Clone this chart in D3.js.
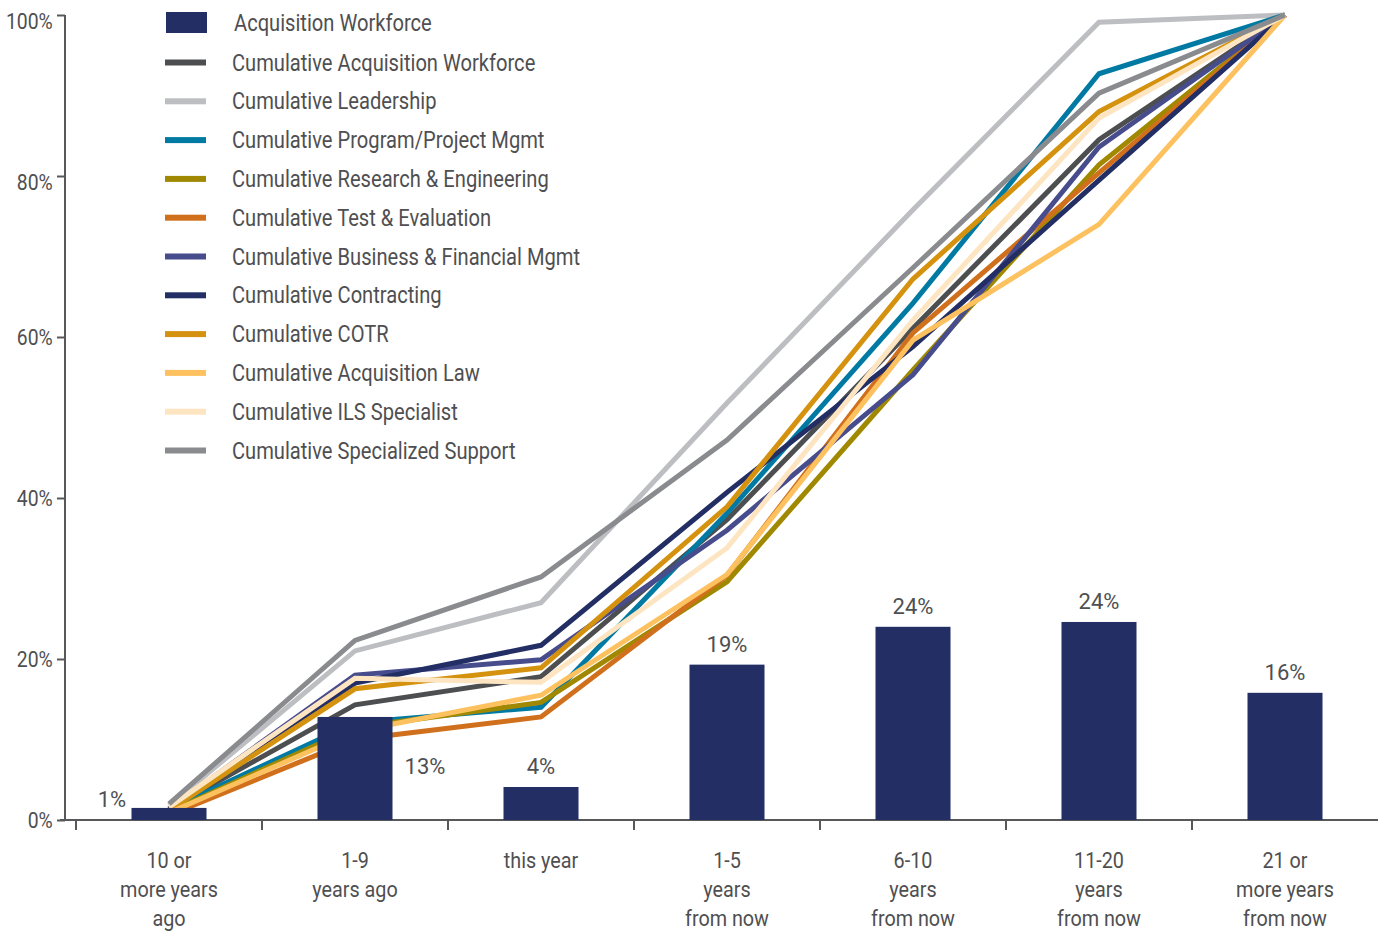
<!DOCTYPE html>
<html>
<head>
<meta charset="utf-8">
<script src="https://cdn.jsdelivr.net/npm/d3@7"></script>
<style>
  body { margin: 0; background: #fff; }
  text { font-family: "Roboto", sans-serif; fill: #4f4f51; }
</style>
</head>
<body>
<div id="chart"></div>
<script>
// categories (multi-line tick labels)
var categories = [
  ["10 or", "more years", "ago"],
  ["1-9", "years ago"],
  ["this year"],
  ["1-5", "years", "from now"],
  ["6-10", "years", "from now"],
  ["11-20", "years", "from now"],
  ["21 or", "more years", "from now"]
];
var yTicks = [0, 20, 40, 60, 80, 100];

// bars: Acquisition Workforce (%)
var workforce = [1.5, 12.8, 4.1, 19.3, 24.0, 24.6, 15.8];
var workforceLabels = ["1%", "13%", "4%", "19%", "24%", "24%", "16%"];

// cumulative lines (%)
var cumWorkforce   = [1.4, 14.3, 17.8, 37.3, 61.1, 84.5, 100];
var cumLeadership  = [1.8, 21.0, 27.0, 51.8, 75.8, 99.1, 100];
var cumProgram     = [1.3, 12.1, 14.0, 38.1, 64.2, 92.7, 100];
var cumResearch    = [1.0, 11.5, 14.6, 29.6, 55.9, 81.4, 100];
var cumTest        = [0.6, 10.0, 12.8, 30.4, 60.5, 80.4, 100];
var cumBusiness    = [1.4, 18.0, 19.9, 36.0, 55.3, 83.6, 100];
var cumContracting = [1.3, 17.0, 21.7, 40.7, 58.8, 79.5, 100];
var cumCOTR        = [1.2, 16.3, 18.9, 38.9, 67.2, 88.0, 100];
var cumLaw         = [0.9, 11.0, 15.5, 30.5, 59.6, 74.0, 100];
var cumILS         = [1.6, 17.6, 17.1, 33.8, 62.1, 87.2, 100];
var cumSpecialized = [2.0, 22.3, 30.2, 47.2, 68.6, 90.3, 100];

var seriesNames = ["Cumulative Acquisition Workforce", "Cumulative Leadership",
  "Cumulative Program/Project Mgmt", "Cumulative Research & Engineering",
  "Cumulative Test & Evaluation", "Cumulative Business & Financial Mgmt",
  "Cumulative Contracting", "Cumulative COTR", "Cumulative Acquisition Law",
  "Cumulative ILS Specialist", "Cumulative Specialized Support"];
var seriesValues = [cumWorkforce, cumLeadership, cumProgram, cumResearch, cumTest,
  cumBusiness, cumContracting, cumCOTR, cumLaw, cumILS, cumSpecialized];
var seriesColors = ["#4d4e50", "#bdbec1", "#007aa3", "#a08900", "#d0701c",
  "#474c8c", "#222e64", "#d4920f", "#fdc15f", "#fde5c2", "#8a8b8e"];
var barColor = "#222e64";

var width = 1384, height = 932;
var squeeze = 0.88;   // the original font is a condensed face
var svg = d3.select("#chart").append("svg")
  .attr("width", width).attr("height", height);

var x = d3.scaleBand().domain(d3.range(categories.length)).range([76, 1378]);
var y = d3.scaleLinear().domain([0, 100]).range([820, 15]);

// y axis
var yAxis = svg.append("g").attr("transform", "translate(65,0)")
  .call(d3.axisLeft(y).tickValues(yTicks).tickSize(8).tickPadding(6)
    .tickFormat(function(d){ return d + "%"; }));
yAxis.select(".domain").attr("d", "M0," + y(100) + "V" + y(0)).attr("stroke", "#58585a").attr("stroke-width", 2);
yAxis.selectAll(".tick line").attr("stroke", "#58585a").attr("stroke-width", 2);
yAxis.selectAll(".tick text")
  .style("font-size", "22px").style("font-family", "Roboto, sans-serif")
  .attr("fill", "#4f4f51")
  .attr("transform", "scale(" + squeeze + ",1)")
  .attr("dy", function(d){ return d >= 80 ? "0.6em" : "0.32em"; });

// x axis
var xg = svg.append("g");
xg.append("line").attr("x1", 60).attr("x2", 1378).attr("y1", y(0)).attr("y2", y(0))
  .attr("stroke", "#58585a").attr("stroke-width", 2);
xg.selectAll(".xtick").data(d3.range(categories.length)).enter().append("line")
  .attr("x1", function(d){ return x(d); }).attr("x2", function(d){ return x(d); })
  .attr("y1", y(0)).attr("y2", y(0) + 10)
  .attr("stroke", "#58585a").attr("stroke-width", 2);
var xl = xg.selectAll(".xlab").data(categories).enter().append("text")
  .attr("text-anchor", "middle")
  .attr("transform", function(d, i){
    return "translate(" + (x(i) + x.bandwidth() / 2) + ",0) scale(" + 0.9 + ",1)";
  })
  .style("font-size", "22px");
xl.selectAll("tspan").data(function(d){ return d; })
  .enter().append("tspan")
  .attr("x", 0)
  .attr("y", function(d, j){ return 868 + j * 29; })
  .text(function(d){ return d; });

// lines
var line = d3.line()
  .x(function(d, i){ return x(i) + x.bandwidth() / 2; })
  .y(function(d){ return y(d); });

seriesValues.forEach(function(vals, k){
  svg.append("path").datum(vals)
    .attr("fill", "none")
    .attr("stroke", seriesColors[k])
    .attr("stroke-width", 5)
    .attr("stroke-linejoin", "miter")
    .attr("d", line);
});

// bars on top of lines
var barW = 75;
svg.selectAll(".bar").data(workforce).enter().append("rect")
  .attr("x", function(d, i){ return x(i) + x.bandwidth() / 2 - barW / 2; })
  .attr("y", function(d){ return y(d); })
  .attr("width", barW)
  .attr("height", function(d){ return y(0) - y(d); })
  .attr("fill", barColor);

// bar labels (first two sit beside the bar so the lines don't hide them)
var labelSide = ["left", "right", "top", "top", "top", "top", "top"];
svg.selectAll(".blab").data(workforce).enter().append("text")
  .style("font-size", "22px")
  .attr("text-anchor", "middle")
  .attr("x", function(d, i){
    var c = x(i) + x.bandwidth() / 2;
    if (labelSide[i] == "left") return c - 57;
    if (labelSide[i] == "right") return c + 70;
    return c;
  })
  .attr("y", function(d, i){
    if (labelSide[i] == "left") return y(d) - 1;
    if (labelSide[i] == "right") return y(d) + 57;
    return y(d) - 13;
  })
  .text(function(d, i){ return workforceLabels[i]; });

// legend
var leg = svg.append("g");
function legText(tx, ty, s){
  leg.append("text")
    .attr("transform", "translate(" + tx + "," + ty + ") scale(0.875,1)")
    .style("font-size", "23px").text(s);
}
leg.append("rect").attr("x", 166).attr("y", 12).attr("width", 41).attr("height", 21).attr("fill", barColor);
legText(234, 31, "Acquisition Workforce");
seriesNames.forEach(function(name, k){
  var cy = 62.5 + k * 38.8;
  leg.append("rect").attr("x", 165).attr("y", cy - 3).attr("width", 41).attr("height", 6)
    .attr("fill", seriesColors[k]);
  legText(232, cy + 8, name);
});
</script>
</body>
</html>
